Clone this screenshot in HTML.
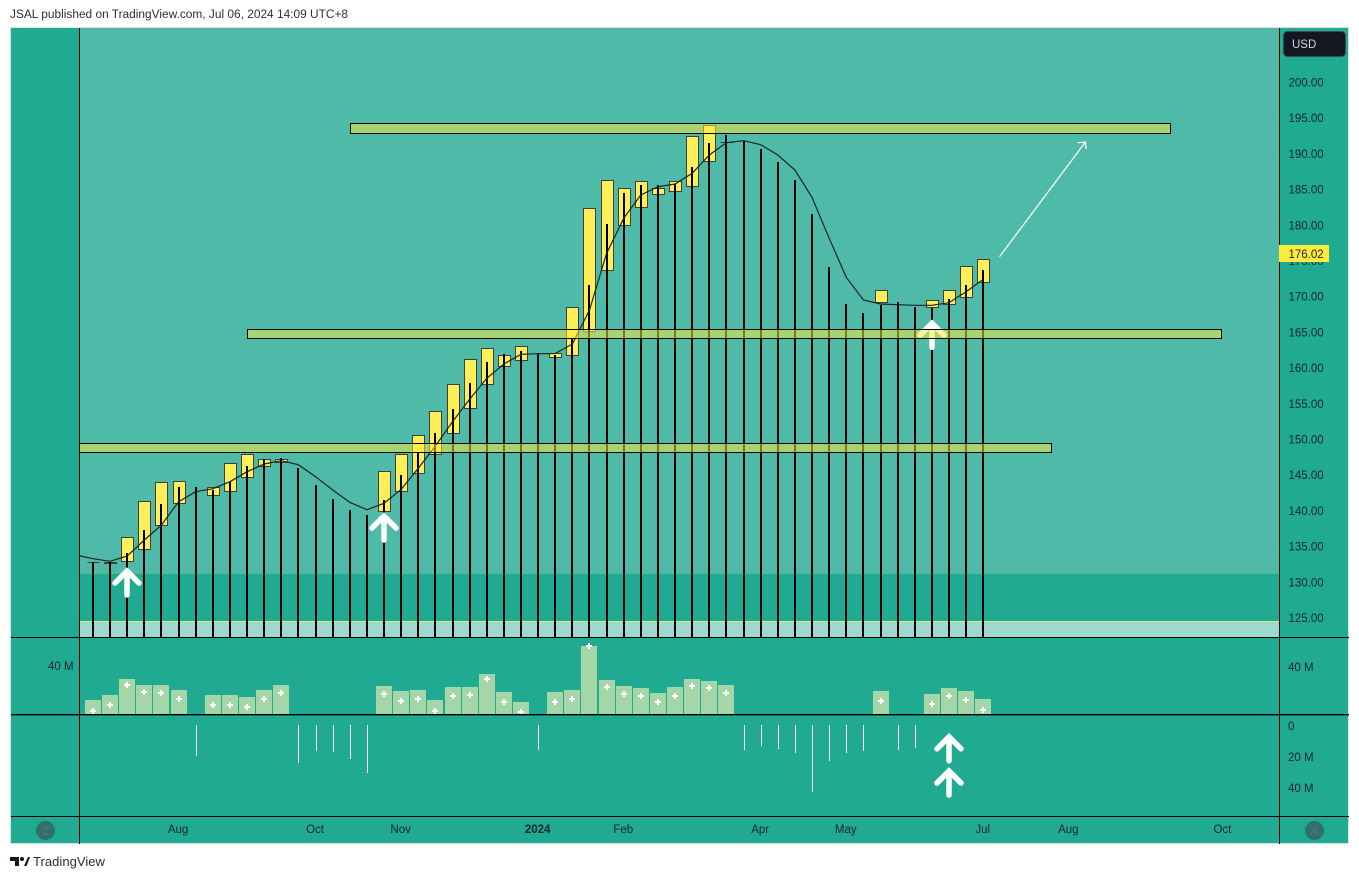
<!DOCTYPE html>
<html lang="en">
<head>
<meta charset="utf-8">
<title>JSAL weekly chart</title>
<style>
html,body{margin:0;padding:0;background:#fff;}
svg{display:block;font-family:"Liberation Sans",sans-serif;}
</style>
</head>
<body>
<svg id="chart" xmlns="http://www.w3.org/2000/svg" width="1359" height="879" viewBox="0 0 1359 879">
  <defs>
    <clipPath id="pane-clip"><rect x="80" y="28" width="1199" height="609"/></clipPath>
    <clipPath id="vol-clip"><rect x="80" y="638" width="1199" height="76"/></clipPath>
  </defs>
  <rect x="0" y="0" width="1359" height="879" fill="#ffffff"/>
  <text x="10" y="18" font-size="11.5" fill="#2a2e39" textLength="338" lengthAdjust="spacingAndGlyphs">JSAL published on TradingView.com, Jul 06, 2024 14:09 UTC+8</text>
  <rect x="10.5" y="27.5" width="1338" height="816" fill="#21aa92" stroke="#cfe6e2" stroke-width="1"/>
  <rect x="80" y="28" width="1199" height="545" fill="#4fbaa8"/>
  <rect x="80" y="573" width="1199" height="1" fill="#55b58f"/>
  <rect x="80" y="621" width="1199" height="16" fill="#9dd9ce"/>
  <rect x="80" y="621" width="1199" height="1" fill="#d8e87c"/>
  <g id="bodies"></g>
  <g id="stems"></g>
  <path id="ma" fill="none" stroke="#1a2424" stroke-width="1.2" clip-path="url(#pane-clip)"/>
  <g id="arrows"></g>
  <g id="zones" clip-path="url(#pane-clip)"></g>
  <g id="trend"></g>
  <g id="volume"></g>
  <g id="markers" clip-path="url(#vol-clip)"></g>
  <g id="delta"></g>
  <g id="low-arrows"></g>
  <rect x="79" y="28" width="1" height="816" fill="#000"/>
  <rect x="1279" y="28" width="1" height="816" fill="#000"/>
  <rect x="11" y="637" width="1338" height="1" fill="#000"/>
  <rect x="11" y="714" width="1338" height="1.4" fill="#000"/>
  <rect x="11" y="816" width="1338" height="1" fill="#000"/>
  <g id="price-ticks"></g>
  <g id="time-ticks"></g>
  <text x="48" y="670" font-size="11.5" fill="#13262a">40 M</text>
  <text x="1288" y="671" font-size="11.5" fill="#13262a">40 M</text>
  <text x="1288" y="730" font-size="11.5" fill="#13262a">0</text>
  <text x="1288" y="761" font-size="11.5" fill="#13262a">20 M</text>
  <text x="1288" y="792" font-size="11.5" fill="#13262a">40 M</text>
  <rect x="1279" y="245" width="50" height="17" fill="#ffeb3b"/>
  <text x="1288.5" y="258" font-size="11.5" fill="#13262a">176.02</text>
  <g>
    <rect x="1283.5" y="31.5" width="62" height="25" rx="4" fill="#131722" stroke="#3b4a50"/>
    <text x="1292" y="48" font-size="11.5" fill="#d1d4dc">USD</text>
  </g>
  <g>
    <circle cx="45.5" cy="830.5" r="9.5" fill="#2f7168"/>
    <text x="45.5" y="834.5" font-size="11" text-anchor="middle" fill="#6a6f80">Z</text>
  </g>
  <g>
    <circle cx="1314.5" cy="830.5" r="9.5" fill="#2f7168"/>
    <text x="1314.5" y="834.5" font-size="11" text-anchor="middle" fill="#6a6f80">A</text>
  </g>
  <g>
    <path d="M10 857H19V866H15V861H10Z M24 866L28 857H30L26.500 866Z" fill="#131722"/>
    <circle cx="22" cy="859" r="2" fill="#131722"/>
    <text x="33" y="866" font-size="13" fill="#2a2e39" textLength="72" lengthAdjust="spacingAndGlyphs">TradingView</text>
  </g>
</svg>
<script>
var stemTop = [
  132.8,132.9,134.1,137.3,141.0,143.3,143.3,142.9,144.1,146.3,
  147.2,147.4,146.0,143.6,141.7,140.1,139.4,141.5,145.0,148.2,
  150.9,154.3,157.9,160.9,162.0,162.4,162.1,161.8,164.1,171.6,
  180.2,184.5,185.6,185.6,185.8,188.2,191.5,192.6,191.8,190.7,
  188.9,186.3,181.6,174.2,169.0,167.7,168.9,169.3,168.6,168.4,
  169.7,171.6,173.7
];
var bodyTop = [
  132.84,132.84,136.34,141.39,144.05,144.19,null,143.35,146.71,147.97,
  147.27,147.27,null,null,null,null,null,145.59,147.97,150.63,
  153.99,157.77,161.28,162.82,161.84,163.10,null,162.12,168.56,182.42,
  186.35,185.23,186.21,185.23,186.21,192.51,194.05,191.67,null,null,
  null,null,null,null,null,null,170.94,null,null,169.54,
  170.94,174.30,175.28
];
var bodyBottom = [
  132.84,132.70,132.98,134.66,138.03,141.11,null,142.23,142.79,144.75,
  146.29,146.85,null,null,null,null,null,139.99,142.79,145.31,
  147.97,150.91,154.41,157.77,160.30,161.14,null,161.56,161.84,165.20,
  173.74,180.04,182.56,184.39,184.81,185.51,189.01,191.67,null,null,
  null,null,null,null,null,null,169.26,null,null,168.56,
  168.98,169.96,172.06
];
var maLeading = 133.82;
var maValues = [
  133.31,132.94,133.68,135.92,138.03,141.29,142.69,143.11,144.09,145.49,
  146.57,147.03,146.47,144.79,142.93,141.20,140.17,141.06,143.03,145.97,
  149.09,152.49,155.63,158.57,160.58,161.93,162.02,162.05,163.38,168.14,
  176.08,180.98,184.25,185.41,185.79,187.28,189.85,191.57,191.85,191.29,
  189.85,187.75,183.92,178.18,172.72,169.54,168.98,168.88,168.80,168.80,
  169.16,170.70,172.44
];
var volumeM = [
  11.9,16.2,29.8,24.7,24.7,20.4,null,16.2,16.2,14.5,
  20.4,24.7,null,null,null,null,null,23.8,19.6,20.4,
  11.9,23.0,23.0,34.0,18.7,10.2,null,18.7,20.4,57.9,
  28.9,23.8,22.1,17.9,23.0,29.8,28.1,24.7,null,null,
  null,null,null,null,null,null,19.6,null,null,17.0,
  22.1,19.6,12.8
];
var plusM = [
  2.6,7.7,24.7,18.7,17.9,12.8,null,7.7,7.7,6.0,
  12.8,17.9,null,null,null,null,null,17.0,11.1,12.8,
  2.6,15.3,16.2,29.8,10.2,1.7,null,10.2,12.8,57.9,
  23.0,17.0,15.3,10.2,15.3,23.8,22.1,17.9,null,null,
  null,null,null,null,null,null,11.1,null,null,8.5,
  15.3,11.9,3.4
];
var deltaM = [
  null,null,null,null,null,null,19.5,null,null,null,
  null,null,23.9,16.3,17.0,21.4,30.3,null,null,null,
  null,null,null,null,null,null,15.7,null,null,null,
  null,null,null,null,null,null,null,null,15.7,13.1,
  15.0,17.6,42.3,22.7,17.6,16.3,null,15.7,14.4,null,
  null,null,null
];
var priceTicks = [200,195,190,185,180,175,170,165,160,155,150,145,140,135,130,125];
var timeLabels = ["Aug","Oct","Nov","2024","Feb","Apr","May","Jul","Aug","Oct"];
var timeBars = [5,13,18,26,31,39,44,52,57,66];
var zoneTop = [194.26,165.41,149.44];
var zoneBottom = [192.86,164.15,148.18];
var zoneFromBar = [15,9,-2];
var zoneToBar = [62.93,65.9,55.93];
var arrowBars = [2,17,49];
var arrowTipPrices = [132.0,139.7,166.7];
var trendBars = [52.95,57.97];
var trendPrices = [175.6,191.67];
var lowArrowBar = 50;
var lowArrowTipsM = [5.6,27.3];

var NS = "http://www.w3.org/2000/svg";
function xOf(i){ return 93 + 17.12 * i; }
function yOf(p){ return 618 - (p - 125) * 7.14; }
function volH(v){ return v * 1.175; }
function deltaY(v){ return 725 + v * 1.575; }
function make(tag, parentId){
  var el = document.createElementNS(NS, tag);
  document.getElementById(parentId).appendChild(el);
  return el;
}
function arrowPath(x, tip){
  return "M" + x + " " + (tip + 27) + "V" + (tip + 3) + "M" + (x - 12) + " " + (tip + 15) + "L" + x + " " + (tip + 3) + "L" + (x + 12) + " " + (tip + 15);
}

stemTop.forEach(function(p, i){
  var x = Math.round(xOf(i));
  if (bodyTop[i] !== null) {
    var t = Math.round(yOf(bodyTop[i])) + 0.5;
    var b = Math.round(yOf(bodyBottom[i])) + 0.5;
    var body = make("path", "bodies");
    
    
    body.setAttribute("d", "M" + (x - 5.5) + " " + t + "H" + (x + 6.5) + "V" + b + "H" + (x - 5.5) + "Z");
    body.setAttribute("fill", "#ffee58");
    body.setAttribute("stroke", "#3c3f3c");
    body.setAttribute("stroke-width", "1");
  }
  var stem = make("rect", "stems");
  
  
  var top = Math.round(yOf(p));
  stem.setAttribute("x", x - 1);
  stem.setAttribute("y", top);
  stem.setAttribute("width", 2);
  stem.setAttribute("height", 637 - top);
  stem.setAttribute("fill", "#000");
});

var maD = "M" + xOf(-1) + " " + yOf(maLeading);
maValues.forEach(function(p, i){ maD += "L" + xOf(i).toFixed(1) + " " + yOf(p).toFixed(1); });
document.getElementById("ma").setAttribute("d", maD);

arrowBars.forEach(function(b, i){
  var a = make("path", "arrows");
  
  
  a.setAttribute("d", arrowPath(Math.round(xOf(b)), yOf(arrowTipPrices[i])));
  a.setAttribute("fill", "none");
  a.setAttribute("stroke", "#fff");
  a.setAttribute("stroke-width", "5.5");
  a.setAttribute("stroke-linecap", "round");
  a.setAttribute("stroke-linejoin", "miter");
});

zoneTop.forEach(function(p, i){
  var z = make("rect", "zones");
  
  
  var l = Math.round(xOf(zoneFromBar[i])) + 0.5;
  var r = Math.round(xOf(zoneToBar[i])) + 0.5;
  var t = Math.round(yOf(p)) + 0.5;
  var b = Math.round(yOf(zoneBottom[i])) + 0.5;
  z.setAttribute("x", l);
  z.setAttribute("y", t);
  z.setAttribute("width", r - l);
  z.setAttribute("height", b - t);
  z.setAttribute("fill", "rgba(255,235,59,0.5)");
  z.setAttribute("stroke", "#000");
  z.setAttribute("stroke-width", "1");
});

var tx0 = xOf(trendBars[0]), ty0 = yOf(trendPrices[0]);
var tx1 = xOf(trendBars[1]), ty1 = yOf(trendPrices[1]);
var trendLine = make("path", "trend");


trendLine.setAttribute("d", "M" + tx0 + " " + ty0 + "L" + tx1 + " " + ty1 + "M" + (tx1 - 8) + " " + (ty1 + 0.7) + "L" + tx1 + " " + ty1 + "L" + (tx1 + 0.7) + " " + (ty1 + 7));
trendLine.setAttribute("fill", "none");
trendLine.setAttribute("stroke", "#ffffff");
trendLine.setAttribute("stroke-width", "1.2");

volumeM.forEach(function(v, i){
  if (v === null) return;
  var x = Math.round(xOf(i));
  var h = volH(v);
  var bar = make("rect", "volume");
  
  
  bar.setAttribute("x", x - 8);
  bar.setAttribute("y", Math.round(714 - h));
  bar.setAttribute("width", 16);
  bar.setAttribute("height", Math.round(h));
  bar.setAttribute("fill", "#a5d6a7");
});

plusM.forEach(function(v, i){
  if (v === null) return;
  var x = Math.round(xOf(i));
  var y = Math.round(714 - volH(v));
  var mark = make("path", "markers");
  
  
  mark.setAttribute("d", "M" + (x - 3) + " " + y + "H" + (x + 3) + "M" + x + " " + (y - 3) + "V" + (y + 3));
  mark.setAttribute("stroke", "#fff");
  mark.setAttribute("stroke-width", "2");
  mark.setAttribute("fill", "none");
});

deltaM.forEach(function(v, i){
  if (v === null) return;
  var x = Math.round(xOf(i));
  var line = make("rect", "delta");
  
  
  line.setAttribute("x", x);
  line.setAttribute("y", 725);
  line.setAttribute("width", 1);
  line.setAttribute("height", Math.round(deltaY(v) - 725));
  line.setAttribute("fill", "#fff");
});

lowArrowTipsM.forEach(function(v){
  var a = make("path", "low-arrows");
  
  
  a.setAttribute("d", arrowPath(Math.round(xOf(lowArrowBar)), deltaY(v)));
  a.setAttribute("fill", "none");
  a.setAttribute("stroke", "#fff");
  a.setAttribute("stroke-width", "5.5");
  a.setAttribute("stroke-linecap", "round");
  a.setAttribute("stroke-linejoin", "miter");
});

priceTicks.forEach(function(p){
  var t = make("text", "price-ticks");
  
  
  t.setAttribute("x", 1288.5);
  t.setAttribute("y", yOf(p) + 4);
  t.setAttribute("font-size", "11.5");
  t.setAttribute("fill", "#13262a");
  t.textContent = p.toFixed(2);
});

timeLabels.forEach(function(label, i){
  var t = make("text", "time-ticks");
  
  
  t.setAttribute("x", xOf(timeBars[i]) - 0.5);
  t.setAttribute("y", 833);
  t.setAttribute("font-size", "11.5");
  t.setAttribute("text-anchor", "middle");
  t.setAttribute("fill", "#13262a");
  if (label === "2024") t.setAttribute("font-weight", "bold");
  t.textContent = label;
});
</script>
</body>
</html>
